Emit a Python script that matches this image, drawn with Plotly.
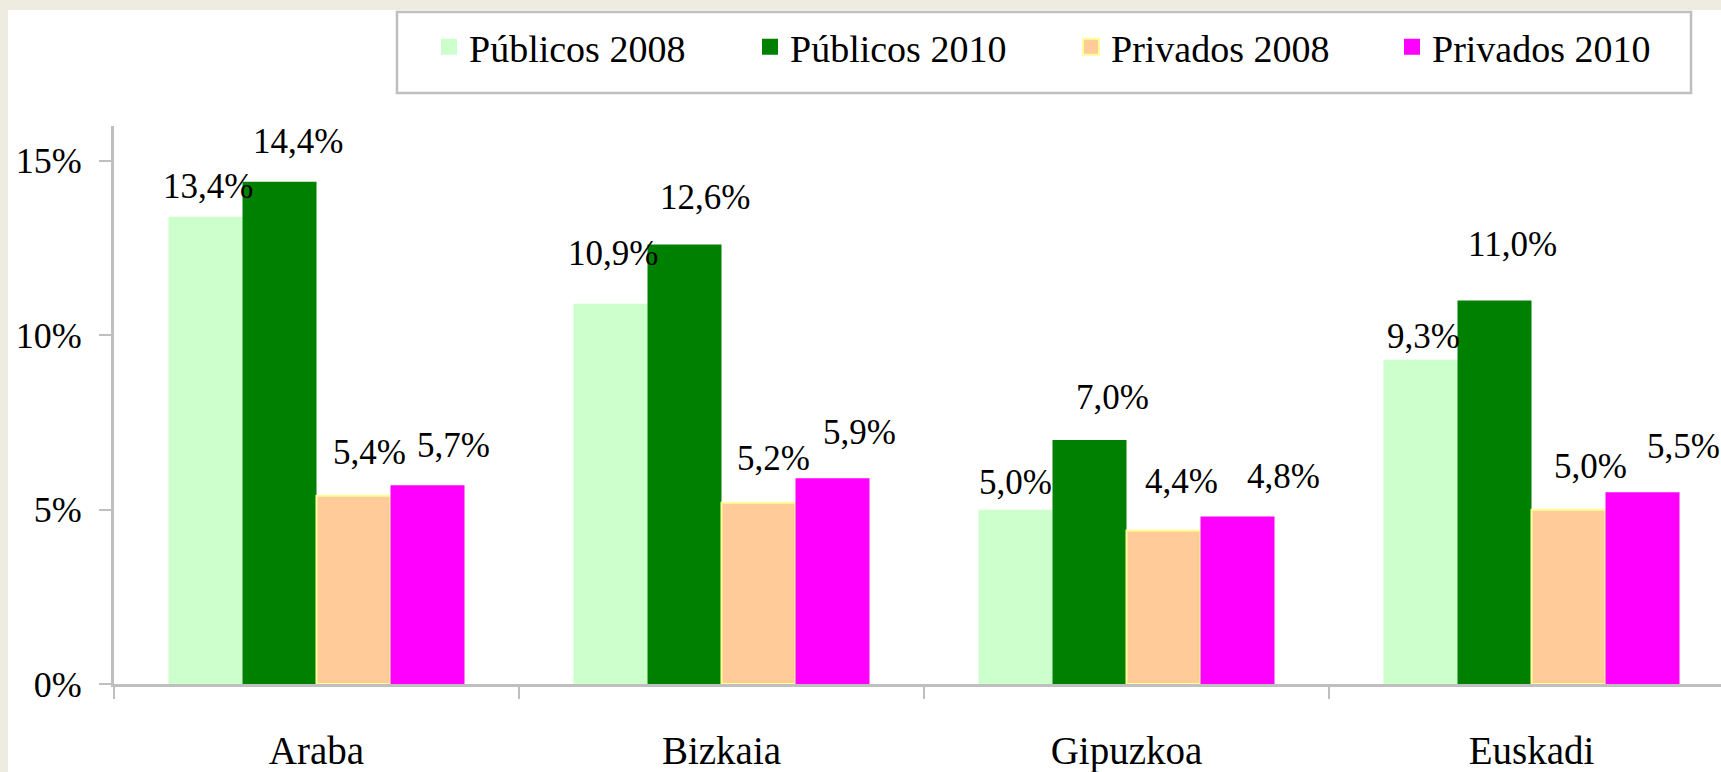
import plotly.graph_objects as go

categories = ["Araba", "Bizkaia", "Gipuzkoa", "Euskadi"]
series_names = ["Públicos 2008", "Públicos 2010", "Privados 2008", "Privados 2010"]
publicos_2008 = [13.4, 10.9, 5.0, 9.3]
publicos_2010 = [14.4, 12.6, 7.0, 11.0]
privados_2008 = [5.4, 5.2, 4.4, 5.0]
privados_2010 = [5.7, 5.9, 4.8, 5.5]
y_tick_values = [0, 5, 10, 15]
y_tick_labels = ["0%", "5%", "10%", "15%"]

series_values = [publicos_2008, publicos_2010, privados_2008, privados_2010]

# styles
colors = ["#CCFFCC", "#008000", "#FFCC99", "#FF00FF"]
line_colors = ["#CCFFCC", "#008000", "#FFFF99", "#FF00FF"]
line_widths = [0, 0, 2, 0]
FONT = "Liberation Serif"
W, H = 1721, 772
ML, MR, MT, MB = 114, 0, 126, 88
PW = W - ML - MR
PH = H - MT - MB
CAT_PX = 405.0
BAR_PX = 74.0
# label offsets relative to bar top centre (px), as in the reference layout
label_dx = [[2, 2, 0, 3], [18, 20, 23, 18], [16, 15, 18, 22], [26, 27, 46, 41]]
label_dy = [[30, 50, 27, 23], [40, 47, 42, 56], [43, 44, 49, 43], [40, 46, 40, 46]]


def fmt(v):
    return f"{v:.1f}".replace(".", ",") + "%"


def px_to_paper_x(px):
    return (px - ML) / PW


def px_to_paper_y(py):
    return (H - MB - py) / PH


fig = go.Figure()
for i, (name, vals) in enumerate(zip(series_names, series_values)):
    fig.add_trace(go.Bar(
        x=categories, y=vals, name=name, showlegend=False,
        marker=dict(color=colors[i], line=dict(color=line_colors[i], width=line_widths[i])),
        hoverinfo="x+y+name",
    ))
# legend swatches
for i, name in enumerate(series_names):
    fig.add_trace(go.Scatter(
        x=[None], y=[None], mode="markers", name=name,
        marker=dict(symbol="square", size=22, color=colors[i],
                    line=dict(color=line_colors[i], width=2 if line_widths[i] else 0)),
    ))

annotations = []
for i, vals in enumerate(series_values):
    for j, v in enumerate(vals):
        annotations.append(dict(
            x=categories[j], y=v, xref="x", yref="y", text=fmt(v), showarrow=False,
            xshift=(i - 1.5) * BAR_PX + label_dx[i][j], yshift=label_dy[i][j],
            xanchor="center", yanchor="middle",
            font=dict(family=FONT, size=35, color="black"),
        ))

shapes = [
    # white chart area on beige page
    dict(type="rect", xref="paper", yref="paper", layer="below",
         x0=px_to_paper_x(8), x1=px_to_paper_x(W + 10), y0=px_to_paper_y(H + 10), y1=px_to_paper_y(10),
         fillcolor="white", line=dict(width=0)),
    # legend box
    dict(type="rect", xref="paper", yref="paper", layer="above",
         x0=px_to_paper_x(397), x1=px_to_paper_x(1691), y0=px_to_paper_y(93), y1=px_to_paper_y(12),
         fillcolor="rgba(0,0,0,0)", line=dict(color="#BFBFBF", width=2.5)),
]

fig.update_layout(
    width=W, height=H,
    margin=dict(l=ML, r=MR, t=MT, b=MB, pad=0),
    paper_bgcolor="#EEECE1",
    plot_bgcolor="rgba(0,0,0,0)",
    barmode="group", bargap=1 - 4 * BAR_PX / CAT_PX, bargroupgap=0,
    font=dict(family=FONT, color="black"),
    showlegend=True,
    legend=dict(
        orientation="h", xref="container", yref="container",
        x=429 / W, y=1 - 47 / H, xanchor="left", yanchor="middle",
        font=dict(family=FONT, size=38, color="black"),
        bgcolor="rgba(0,0,0,0)", borderwidth=0,
        entrywidth=276, entrywidthmode="pixels", itemclick=False,
    ),
    annotations=annotations,
    shapes=shapes,
    hovermode=False,
)
fig.update_xaxes(
    type="category", range=[-0.5, -0.5 + PW / CAT_PX],
    showline=True, linecolor="#BFBFBF", linewidth=3,
    ticks="outside", tickson="boundaries", ticklen=12, tickcolor="#BFBFBF", tickwidth=2,
    showgrid=False, zeroline=False,
    tickfont=dict(family=FONT, size=39, color="black"),
    ticklabelstandoff=30,
)
fig.update_yaxes(
    range=[0, 16], tickvals=y_tick_values, ticktext=y_tick_labels,
    showline=True, linecolor="#BFBFBF", linewidth=3,
    ticks="outside", ticklen=12, tickcolor="#BFBFBF", tickwidth=2,
    showgrid=False, zeroline=False,
    tickfont=dict(family=FONT, size=36, color="black"),
    ticklabelstandoff=10,
)

fig.write_html(
    "out.html",
    config={"displayModeBar": False},
    post_script="document.body.style.margin='0';document.body.style.overflow='hidden';"
                "document.body.style.background='#EEECE1';",
)
